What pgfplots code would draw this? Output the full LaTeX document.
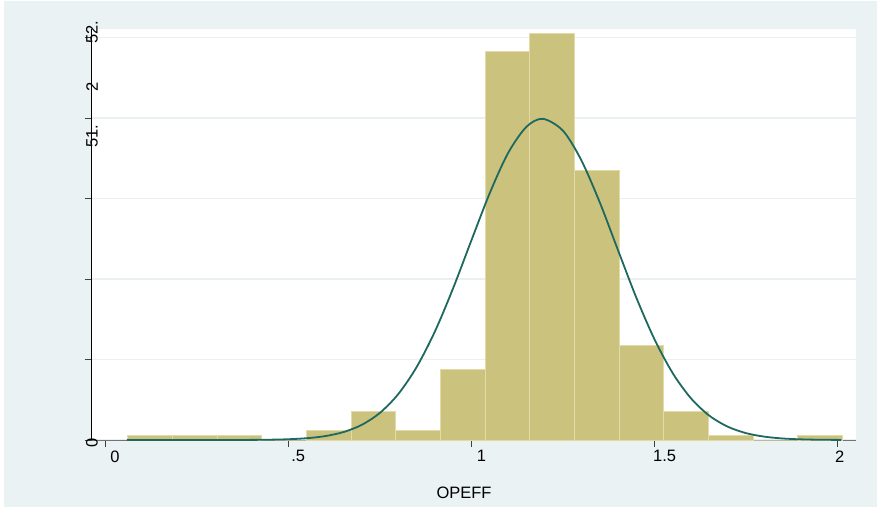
\documentclass[border=0pt]{standalone}
\usepackage{fontspec}
\setmainfont{Liberation Sans}
\usepackage{pgfplots}
\pgfplotsset{compat=1.18}
\definecolor{bgblue}{RGB}{234,242,243}
\definecolor{gridc}{RGB}{234,240,242}
\definecolor{barfill}{RGB}{203,194,125}
\definecolor{barline}{RGB}{226,219,168}
\definecolor{curvec}{RGB}{30,105,95}
\newcommand{\lab}{\fontsize{16.5bp}{19bp}\selectfont}
\begin{document}
\begin{tikzpicture}
\useasboundingbox (-92bp,-67bp) rectangle (785bp,440bp);
\fill[white] (-92bp,-67bp) rectangle (785bp,440bp);
\fill[bgblue] (-88bp,-67bp) rectangle (785bp,439bp);
\begin{axis}[
  scale only axis, width=764bp, height=411bp,
  xmin=-0.0355, xmax=2.0497, ymin=0, ymax=2.553,
  axis background/.style={fill=white},
  axis x line*=bottom, axis y line*=left,
  x axis line style={draw=black!55, line width=1bp},
  y axis line style={draw=black, line width=1bp},
  tick align=outside, major tick length=7bp,
  every tick/.style={black!75, line width=0.9bp},
  xtick={0,0.5,1,1.5}, xticklabels={0,.5,1,1.5},
  extra x ticks={2}, extra x tick labels={2},
  extra x tick style={xticklabel style={xshift=-8bp}},
  xticklabel style={font=\lab, xshift=10bp},
  ytick={0,0.5,1,1.5,2,2.5}, yticklabel={\empty},
  ymajorgrids, grid style={gridc, line width=1.5bp},
  /pgf/number format/assume math mode=true,
  xlabel={OPEFF},
  xlabel style={font=\lab, at={(axis description cs:0.487,0)}, anchor=north, yshift=-43.5bp},
  clip mode=individual,
]
\addplot[ybar interval, fill=barfill, draw=barline, line width=1bp] coordinates {
(0.0620,0.028) (0.1839,0.028) (0.3058,0.028) (0.4277,0) (0.5496,0.056)
(0.6715,0.176) (0.7934,0.056) (0.9153,0.439) (1.0372,2.412) (1.1591,2.526)
(1.2810,1.671) (1.4029,0.588) (1.5248,0.176) (1.6467,0.028) (1.7686,0)
(1.8905,0.028) (2.0124,0.028)
};
\addplot[curvec, line width=1.8bp, smooth] coordinates {
(0.06,0) (0.30,0.0001) (0.40,0.0007) (0.45,0.0019) (0.50,0.0047) (0.55,0.011)
(0.60,0.0239) (0.65,0.0487) (0.70,0.0932) (0.75,0.168) (0.80,0.284) (0.85,0.451)
(0.90,0.672) (0.95,0.942) (1.00,1.240) (1.05,1.533) (1.10,1.782) (1.15,1.945)
(1.195,1.995) (1.25,1.921) (1.30,1.738) (1.35,1.478) (1.40,1.180) (1.45,0.885)
(1.50,0.624) (1.55,0.413) (1.60,0.257) (1.65,0.150) (1.70,0.0823) (1.75,0.0424)
(1.80,0.0206) (1.85,0.0094) (1.90,0.004) (1.95,0.0016) (2.01,0.0005)
};
\node[rotate=90, font=\lab, inner sep=0pt, xshift=-3bp] at (axis cs:-0.0355,0) {0};
\node[rotate=90, font=\lab, inner sep=0pt] at (axis cs:-0.0355,1.888) {51.};
\node[rotate=90, font=\lab, inner sep=0pt] at (axis cs:-0.0355,2.193) {2};
\node[rotate=90, font=\lab, inner sep=0pt] at (axis cs:-0.0355,2.534) {52.};
\end{axis}
\end{tikzpicture}
\end{document}
